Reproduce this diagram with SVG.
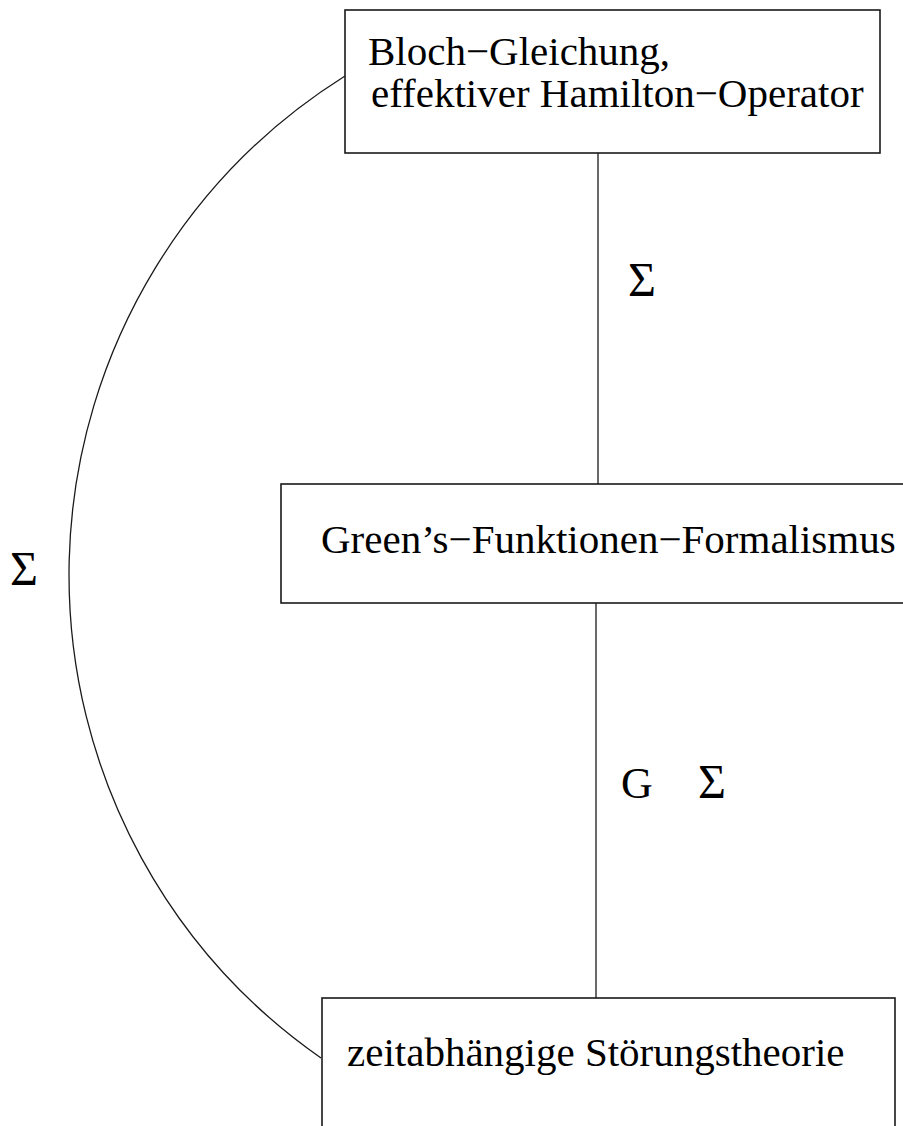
<svg xmlns="http://www.w3.org/2000/svg" width="903" height="1126" viewBox="0 0 903 1126">
<style>
.box{fill:#fff;stroke:#1a1a1a;stroke-width:1.6}
.edge{fill:none;stroke:#1a1a1a;stroke-width:1.3}
.t{font-family:"Liberation Serif","Times New Roman",serif;font-size:41px;fill:#000}
.s{font-family:"Liberation Serif","Times New Roman",serif;font-size:48px;fill:#000}
</style>
<rect width="903" height="1126" fill="#fff"/>
<g id="connectors">
<line class="edge" x1="598" y1="153" x2="598" y2="484"/>
<line class="edge" x1="596" y1="603" x2="596" y2="998"/>
<path class="edge" d="M345,76 A589,589 0 0 0 321,1058"/>
<text class="s" x="628" y="296">Σ</text>
<text class="t" x="621" y="798" style="font-size:44px">G</text>
<text class="s" x="698" y="798">Σ</text>
<text class="s" x="10" y="585">Σ</text>
</g>
<g id="node-bloch">
<rect class="box" x="345" y="10" width="535" height="143"/>
<text class="t" x="368" y="65">Bloch−Gleichung,</text>
<text class="t" x="371" y="107">effektiver Hamilton−Operator</text>
</g>
<g id="node-green">
<rect class="box" x="281" y="484" width="640" height="119"/>
<text class="t" x="321" y="553">Green’s−Funktionen−Formalismus</text>
</g>
<g id="node-stoerung">
<rect class="box" x="322" y="998" width="573" height="140"/>
<text class="t" x="347" y="1066">zeitabhängige Störungstheorie</text>
</g>
</svg>
